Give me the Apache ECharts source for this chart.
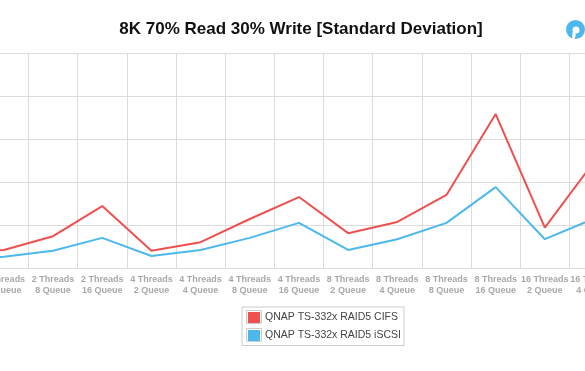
<!DOCTYPE html>
<html><head><meta charset="utf-8">
<script src="https://cdn.jsdelivr.net/npm/echarts@6/dist/echarts.min.js"></script>
<style>html,body{margin:0;padding:0;background:#fff}#c{width:585px;height:371px}</style>
</head><body><div id="c"></div>
<script>
const categories = ['2 Threads\n2 Queue','2 Threads\n4 Queue','2 Threads\n8 Queue','2 Threads\n16 Queue','4 Threads\n2 Queue','4 Threads\n4 Queue','4 Threads\n8 Queue','4 Threads\n16 Queue','8 Threads\n2 Queue','8 Threads\n4 Queue','8 Threads\n8 Queue','8 Threads\n16 Queue','16 Threads\n2 Queue','16 Threads\n4 Queue','16 Threads\n8 Queue'];
const cifs  = [0.30,0.42,0.74,1.44,0.40,0.60,1.14,1.65,0.81,1.07,1.70,3.58,0.94,2.47,2.00];
const iscsi = [0.20,0.26,0.40,0.70,0.28,0.42,0.70,1.05,0.42,0.67,1.05,1.88,0.67,1.15,1.00];
const seriesNames = ['QNAP TS-332x RAID5 CIFS','QNAP TS-332x RAID5 iSCSI'];
const colors = ['#ef5050','#4cb8ee'];
const chart = echarts.init(document.getElementById('c'),null,{renderer:'canvas'});
const line = (name,data,color)=>({name,type:'line',data,symbol:'none',clip:false,lineStyle:{width:2,color},itemStyle:{color}});
chart.setOption({
  animation:false,
  textStyle:{fontFamily:'"Liberation Sans",Arial,sans-serif'},
  title:{text:'8K 70% Read 30% Write [Standard Deviation]',left:296,top:16,textAlign:'center',
    textStyle:{fontSize:17,fontWeight:'bold',color:'#111'}},
  grid:{left:-69.9,top:53,width:737.7,height:215,containLabel:false,outerBoundsMode:'none'},
  xAxis:{type:'category',data:categories,boundaryGap:true,
    axisLine:{lineStyle:{color:'#dcdcdc',width:1}},axisTick:{show:false},
    splitLine:{show:true,lineStyle:{color:'#dcdcdc',width:1}},
    axisLabel:{interval:0,color:'#a8a8a8',fontSize:9,fontWeight:'bold',lineHeight:11,margin:6,hideOverlap:false}},
  yAxis:{type:'value',min:0,max:5,interval:1,axisLabel:{show:false},axisLine:{show:false},axisTick:{show:false},
    splitLine:{lineStyle:{color:'#dcdcdc',width:1}}},
  legend:{orient:'vertical',left:242,top:307,padding:[5,3,4.5,6],itemGap:7,itemWidth:12,itemHeight:11,
    icon:'rect',borderColor:'#ccc',borderWidth:1,
    textStyle:{fontSize:10.5,color:'#444'},data:seriesNames},
  series:[line(seriesNames[0],cifs,colors[0]),line(seriesNames[1],iscsi,colors[1])],
  graphic:[
    {type:'rect',shape:{x:246.5,y:310.5,width:15,height:13},style:{fill:'none',stroke:'#ccc',lineWidth:1}},
    {type:'rect',shape:{x:246.5,y:328.5,width:15,height:13},style:{fill:'none',stroke:'#ccc',lineWidth:1}},
    {type:'circle',shape:{cx:575.5,cy:29.5,r:9.5},style:{fill:'#4cb8ee'}},
    {type:'circle',shape:{cx:576,cy:30,r:3.5},style:{fill:'#fff'}},
    {type:'polygon',shape:{points:[[572.5,32],[576,34],[574.5,40],[572,40]]},style:{fill:'#fff'}}
  ]
});
</script></body></html>
